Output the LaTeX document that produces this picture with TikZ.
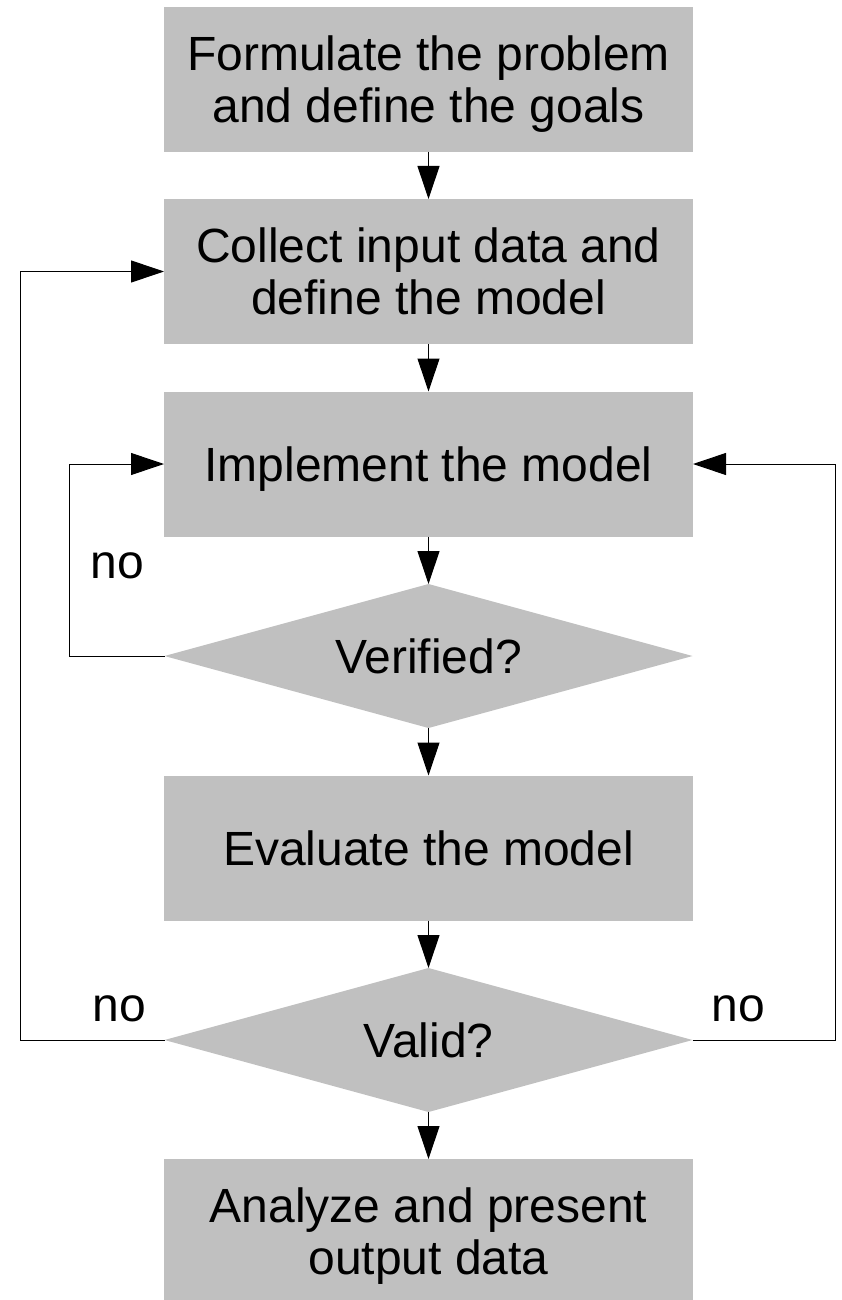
\documentclass[tikz,border=0pt]{standalone}
\usepackage{fontspec}
\setmainfont{Liberation Sans}
\usetikzlibrary{shapes.geometric,arrows.meta}
\definecolor{boxgray}{RGB}{192,192,192}
\newcommand\capstrut{\rule{0pt}{34.4pt}}
\begin{document}
\begin{tikzpicture}[x=1pt,y=-1pt,
  stepbox/.style={rectangle, fill=boxgray, draw=none, minimum width=529pt, minimum height=145pt, inner sep=0pt, outer sep=0pt, align=center, font=\fontsize{48}{52}\selectfont},
  decision/.style={diamond, fill=boxgray, draw=none, minimum width=528pt, minimum height=144pt, shape aspect=3.667, inner sep=0pt, outer sep=0pt, font=\fontsize{48}{52}\selectfont},
  arr/.style={draw=black, line width=1pt, -{Triangle[length=33pt,width=22pt]}},
  lbl/.style={font=\fontsize{48}{52}\selectfont, anchor=base, inner sep=0pt}]
\useasboundingbox (0,0) rectangle (842,1300);
\node[stepbox] (b1) at (428.5,79.5) {\capstrut\smash{Formulate the problem}\\\smash{and define the goals}};
\node[stepbox] (b2) at (428.5,271.5) {\capstrut\smash{Collect input data and}\\\smash{define the model}};
\node[stepbox] (b3) at (428.5,464) {\capstrut\smash{Implement the model}};
\node[decision] (d1) at (428.5,656) {\capstrut\smash{Verified?}};
\node[stepbox] (b4) at (428.5,848) {\capstrut\smash{Evaluate the model}};
\node[decision] (d2) at (428.5,1040) {\capstrut\smash{Valid?}};
\node[stepbox] (b5) at (428.5,1231.5) {\capstrut\smash{Analyze and present}\\\smash{output data}};
\draw[arr] (b1) -- (b2);
\draw[arr] (b2) -- (b3);
\draw[arr] (b3) -- (d1);
\draw[arr] (d1) -- (b4);
\draw[arr] (b4) -- (d2);
\draw[arr] (d2) -- (b5);
\draw[arr] (d1.west) -- ++(-95,0) |- (b3.west);
\draw[arr] (d2.west) -- ++(-144,0) |- (b2.west);
\draw[arr] (d2.east) -- ++(143,0) |- (b3.east);
\node[lbl] (no1) at (117.5,578) {no};
\node[lbl] (no2) at (119.5,1021) {no};
\node[lbl] (no3) at (738,1021) {no};
\end{tikzpicture}
\end{document}
